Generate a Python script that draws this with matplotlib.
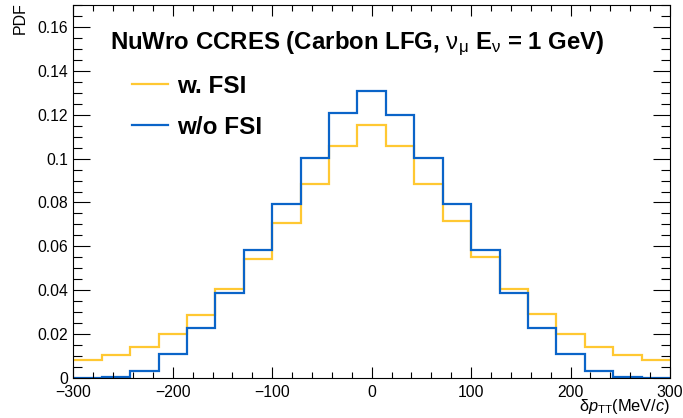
import numpy as np
import matplotlib
matplotlib.use("Agg")
import matplotlib.pyplot as plt
from matplotlib.ticker import MultipleLocator, FuncFormatter

plt.rcParams['font.family'] = ['Liberation Sans', 'DejaVu Sans']
plt.rcParams['mathtext.fontset'] = 'custom'
plt.rcParams['mathtext.rm'] = 'Liberation Sans'
plt.rcParams['mathtext.it'] = 'Liberation Sans:italic'
plt.rcParams['mathtext.bf'] = 'Liberation Sans:bold'

# 21 bins from -300 to 300 MeV/c
edges = np.linspace(-300, 300, 22)
w_fsi = [0.0083, 0.0108, 0.0144, 0.0203, 0.0289, 0.0406, 0.0545, 0.0708,
         0.0886, 0.1056, 0.1151, 0.1059, 0.0882, 0.0715, 0.0550, 0.0405,
         0.0291, 0.0200, 0.0142, 0.0106, 0.0083]
wo_fsi = [0.0002, 0.0006, 0.0035, 0.0109, 0.0227, 0.0389, 0.0583, 0.0795,
          0.1003, 0.1205, 0.1309, 0.1198, 0.1003, 0.0792, 0.0582, 0.0389,
          0.0227, 0.0109, 0.0033, 0.0006, 0.0002]
labels = ['w. FSI', 'w/o FSI']
colors = ['#FFC832', '#0A64C8']

fig = plt.figure(figsize=(6.83, 4.18), dpi=100)
ax = fig.add_axes([73.3/683, 1-378.3/418, (670-73.3)/683, (378.3-4.7)/418])

h1 = ax.stairs(w_fsi, edges, baseline=None, color=colors[0], lw=1.6, label=labels[0])
h2 = ax.stairs(wo_fsi, edges, baseline=None, color=colors[1], lw=1.6, label=labels[1])

ax.set_xlim(-300, 300)
ax.set_ylim(0, 0.17)

ax.xaxis.set_major_locator(MultipleLocator(100))
ax.xaxis.set_minor_locator(MultipleLocator(20))
ax.yaxis.set_major_locator(MultipleLocator(0.02))
ax.yaxis.set_minor_locator(MultipleLocator(0.005))
ax.yaxis.set_major_formatter(FuncFormatter(lambda v, p: '%g' % round(v, 3)))

ax.tick_params(which='both', direction='in', top=True, right=True, labelsize=11.3, width=0.8)
ax.tick_params(axis='x', which='major', length=8, pad=4.5)
ax.tick_params(axis='x', which='minor', length=4.3)
ax.tick_params(axis='y', which='major', length=12, pad=3.6)
ax.tick_params(axis='y', which='minor', length=6.5)
for s in ax.spines.values():
    s.set_linewidth(0.8)

fig.text(670/683, 1-397/418, r'$\mathrm{\delta}p_{\mathrm{TT}}$(MeV/$c$)',
         ha='right', va='top', fontsize=11.8)
fig.text(20/683, 1-2/418, 'PDF', rotation=90, ha='center', va='top', fontsize=11.5)

fig.text(110/683, 1-49/418,
         r'NuWro CCRES (Carbon LFG, $\mathrm{\nu_{\mu}}$ E$_{\mathrm{\nu}}$ = 1 GeV)',
         ha='left', va='baseline', fontsize=17.3, fontweight='bold')

ax.legend(handles=[h1, h2], labels=labels, loc='upper left',
          bbox_to_anchor=(131.7/683, 1-75/418), bbox_transform=fig.transFigure,
          frameon=False, prop={'weight': 'bold', 'size': 17.5},
          handlelength=1.5, handletextpad=0.35, labelspacing=0.72,
          borderaxespad=0, borderpad=0)

fig.savefig('out.png', dpi=100)
